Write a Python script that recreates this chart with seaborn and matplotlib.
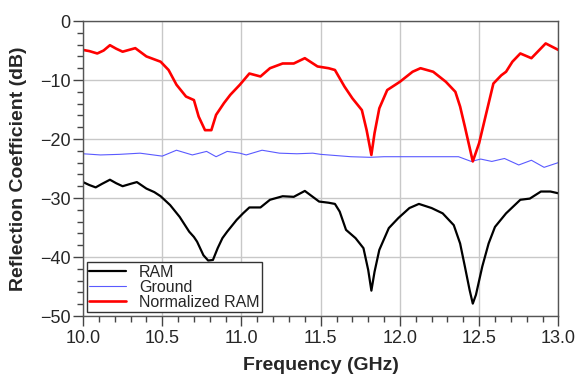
import matplotlib
matplotlib.use('Agg')
import matplotlib.pyplot as plt
import seaborn as sns
import pandas as pd
from matplotlib.ticker import MultipleLocator

# 数据
ram_freq = [10.00, 10.04, 10.08, 10.12, 10.17, 10.21, 10.25, 10.30, 10.34, 10.40,
            10.45, 10.49, 10.55, 10.61, 10.67, 10.70, 10.72, 10.76, 10.79, 10.82,
            10.85, 10.88, 10.91, 10.97, 11.01, 11.05, 11.12, 11.18, 11.26, 11.33,
            11.40, 11.45, 11.49, 11.55, 11.59, 11.62, 11.66, 11.72, 11.77, 11.80,
            11.82, 11.84, 11.87, 11.93, 11.99, 12.06, 12.12, 12.20, 12.27, 12.34,
            12.38, 12.41, 12.44, 12.46, 12.48, 12.52, 12.56, 12.60, 12.67, 12.76,
            12.82, 12.89, 12.95, 13.00]
ram_db = [-27.3, -27.8, -28.2, -27.6, -26.9, -27.5, -28.0, -27.6, -27.3, -28.4,
          -29.0, -29.7, -31.2, -33.2, -35.7, -36.6, -37.4, -39.7, -40.6, -40.5,
          -38.5, -36.8, -35.7, -33.7, -32.6, -31.6, -31.6, -30.3, -29.7, -29.8,
          -28.8, -29.8, -30.6, -30.8, -31.0, -32.3, -35.4, -36.8, -38.5, -42.2,
          -45.7, -42.5, -38.8, -35.1, -33.4, -31.7, -31.0, -31.7, -32.6, -34.6,
          -37.7, -41.6, -45.6, -47.9, -46.4, -41.6, -37.7, -34.9, -32.6, -30.3,
          -30.1, -28.9, -28.9, -29.2]

ground_freq = [10.00, 10.11, 10.23, 10.36, 10.50, 10.59, 10.69, 10.78, 10.84, 10.91,
               10.99, 11.03, 11.13, 11.24, 11.35, 11.45, 11.50, 11.69, 11.81, 11.90,
               11.99, 12.11, 12.22, 12.37, 12.45, 12.51, 12.58, 12.66, 12.75, 12.83,
               12.91, 13.00]
ground_db = [-22.5, -22.7, -22.6, -22.4, -22.9, -21.9, -22.7, -22.1, -23.0, -22.1,
             -22.4, -22.7, -21.9, -22.4, -22.5, -22.4, -22.6, -23.0, -23.1, -23.0,
             -23.0, -23.0, -23.0, -23.0, -23.8, -23.4, -23.8, -23.3, -24.4, -23.6,
             -24.8, -24.0]

norm_freq = [10.00, 10.04, 10.09, 10.13, 10.17, 10.21, 10.25, 10.33, 10.40, 10.49,
             10.54, 10.59, 10.65, 10.70, 10.73, 10.77, 10.81, 10.84, 10.89, 10.93,
             10.99, 11.05, 11.12, 11.18, 11.26, 11.33, 11.40, 11.48, 11.55, 11.59,
             11.65, 11.70, 11.76, 11.79, 11.82, 11.84, 11.87, 11.92, 12.00, 12.08,
             12.13, 12.21, 12.29, 12.35, 12.38, 12.41, 12.46, 12.50, 12.54, 12.59,
             12.64, 12.67, 12.71, 12.76, 12.83, 12.92, 13.00]
norm_db = [-4.9, -5.1, -5.5, -5.0, -4.1, -4.7, -5.2, -4.6, -6.0, -6.9,
           -8.3, -10.8, -12.8, -13.4, -16.2, -18.5, -18.5, -15.9, -13.9, -12.5,
           -10.8, -8.9, -9.4, -8.0, -7.2, -7.2, -6.3, -7.7, -8.0, -8.3,
           -11.1, -13.1, -15.1, -18.5, -22.7, -19.0, -14.8, -11.7, -10.3, -8.6,
           -8.0, -8.6, -10.3, -12.0, -14.5, -17.9, -23.8, -20.7, -16.2, -10.6,
           -9.2, -8.6, -6.9, -5.5, -6.3, -3.8, -4.9]

sns.set_style('ticks')
plt.rcParams['font.family'] = ['Liberation Sans', 'DejaVu Sans']

fig = plt.figure(figsize=(5.78, 3.80), dpi=100)
ax = fig.add_axes([0.1436, 0.1684, 0.8224, 0.7763])

sns.lineplot(x=ram_freq, y=ram_db, ax=ax, color='black', linewidth=1.6,
             label='RAM', sort=False)
sns.lineplot(x=ground_freq, y=ground_db, ax=ax, color='#5a5aff', linewidth=0.8,
             label='Ground', sort=False)
sns.lineplot(x=norm_freq, y=norm_db, ax=ax, color='#ff0000', linewidth=1.9,
             label='Normalized RAM', sort=False)

ax.set_xlim(10.0, 13.0)
ax.set_ylim(-50, 0)
ax.xaxis.set_major_locator(MultipleLocator(0.5))
ax.xaxis.set_minor_locator(MultipleLocator(0.1))
ax.yaxis.set_major_locator(MultipleLocator(10))
ax.yaxis.set_minor_locator(MultipleLocator(2))
ax.xaxis.set_major_formatter(matplotlib.ticker.FormatStrFormatter('%.1f'))
ax.grid(True, which='major', color='#c8c8c8', linewidth=1.0)

ax.tick_params(axis='both', which='major', length=7, width=1, color='#444444',
               labelsize=13)
ax.tick_params(axis='x', which='major', pad=3)
ax.tick_params(axis='y', which='major', pad=2)
ax.tick_params(axis='both', which='minor', length=4, width=1, color='#444444')
for s in ax.spines.values():
    s.set_color('#555555')
    s.set_linewidth(1.0)

ax.set_xlabel('Frequency (GHz)', fontsize=14, fontweight='bold', labelpad=7)
ax.set_ylabel('Reflection Coefficient (dB)', fontsize=14, fontweight='bold', labelpad=9)

leg = ax.legend(loc='lower left', bbox_to_anchor=(0.0, 0.0), fontsize=11.5,
                frameon=True, fancybox=False, handlelength=2.3,
                borderpad=0.15, labelspacing=0.0, handletextpad=0.8,
                borderaxespad=0.25)
leg.get_frame().set_edgecolor('#333333')
leg.get_frame().set_linewidth(1.0)
leg.get_frame().set_alpha(1)

fig.savefig('out.png', dpi=100)
